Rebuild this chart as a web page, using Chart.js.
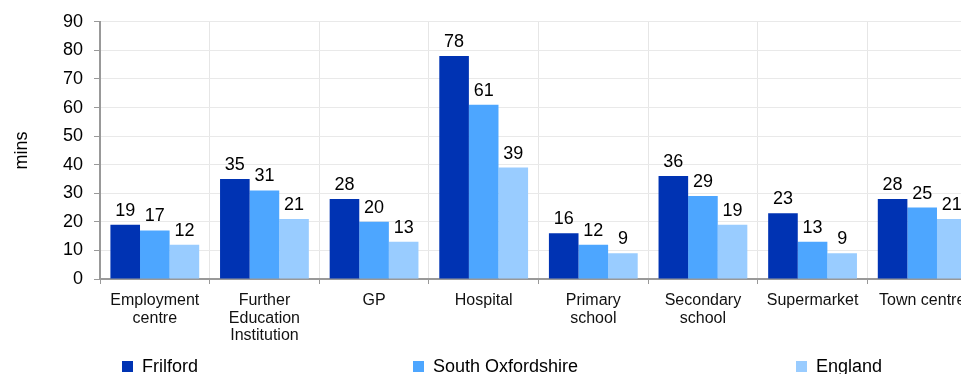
<!DOCTYPE html>
<html>
<head>
<meta charset="utf-8">
<script src="https://cdn.jsdelivr.net/npm/chart.js@4/dist/chart.umd.min.js"></script>
<style>
  html, body { margin: 0; padding: 0; background: #fff; overflow: hidden; }
  #wrap { position: relative; width: 961px; height: 374px; overflow: hidden; }
  #box { position: absolute; left: 0; top: 0; width: 1000px; height: 374px; }
  .leg { position: absolute; top: 355px; font: 18px "Liberation Sans", Arial, sans-serif; color: #000; white-space: nowrap; line-height: 22px; }
  .leg i { display: inline-block; width: 11px; height: 11px; margin-right: 9px; vertical-align: 0px; }
</style>
</head>
<body>
<div id="wrap">
  <div id="box"><canvas id="chart"></canvas></div>
  <div id="legend"></div>
</div>
<script>
const categories = [
  ["Employment", "centre"],
  ["Further", "Education", "Institution"],
  "GP",
  "Hospital",
  ["Primary", "school"],
  ["Secondary", "school"],
  "Supermarket",
  "Town centre"
]
const seriesNames = ["Frilford", "South Oxfordshire", "England"]
const frilford = [19, 35, 28, 78, 16, 36, 23, 28]
const southOxfordshire = [17, 31, 20, 61, 12, 29, 13, 25]
const england = [12, 21, 13, 39, 9, 19, 9, 21]
const colors = ["#0033b3", "#4da6ff", "#99ccff"]
const legendX = [122, 413, 796]

const font = "'Liberation Sans', Arial, sans-serif"

// numbers above each bar
const valueLabels = {
  id: "valueLabels",
  afterDatasetsDraw(chart) {
    const ctx = chart.ctx
    ctx.save()
    ctx.font = "18px " + font
    ctx.fillStyle = "#000"
    ctx.textAlign = "center"
    ctx.textBaseline = "alphabetic"
    chart.data.datasets.forEach((ds, i) => {
      chart.getDatasetMeta(i).data.forEach((bar, j) => {
        ctx.fillText(ds.data[j], bar.x, bar.y - 9)
      })
    })
    ctx.restore()
  }
}

new Chart(document.getElementById("chart"), {
  type: "bar",
  data: {
    labels: categories,
    datasets: [frilford, southOxfordshire, england].map((d, i) => ({
      label: seriesNames[i],
      data: d,
      backgroundColor: colors[i],
      borderWidth: 0,
      barPercentage: 1,
      categoryPercentage: 0.81,
    })),
  },
  options: {
    responsive: true,
    maintainAspectRatio: false,
    animation: false,
    layout: { padding: { top: 20, right: 23, bottom: 32, left: 0 } },
    plugins: {
      legend: { display: false },
      tooltip: { enabled: false },
    },
    scales: {
      x: {
        afterFit: (axis) => { axis.height = 63 },
        grid: { color: "#e6e6e6", tickColor: "#999", tickLength: 5, offset: true },
        border: { color: "#999", width: 2 },
        ticks: { color: "#111", font: { family: font, size: 16, lineHeight: 1.1 }, maxRotation: 0, autoSkip: false, padding: 8 },
      },
      y: {
        min: 0,
        max: 90,
        afterFit: (axis) => { axis.width = 100 },
        grid: { color: "#e9e9e9", tickColor: "#999", tickLength: 6 },
        border: { color: "#999", width: 2 },
        ticks: { stepSize: 10, color: "#000", font: { family: font, size: 18 }, padding: 11 },
        title: { display: true, text: "mins", color: "#000", font: { family: font, size: 18 }, padding: { top: 11, bottom: 0 } },
      },
    },
  },
  plugins: [valueLabels],
})

const legend = document.getElementById("legend")
seriesNames.forEach((name, i) => {
  const el = document.createElement("div")
  el.className = "leg"
  el.style.left = legendX[i] + "px"
  el.innerHTML = `<i style="background:${colors[i]}"></i>${name}`
  legend.appendChild(el)
})
</script>
</body>
</html>
